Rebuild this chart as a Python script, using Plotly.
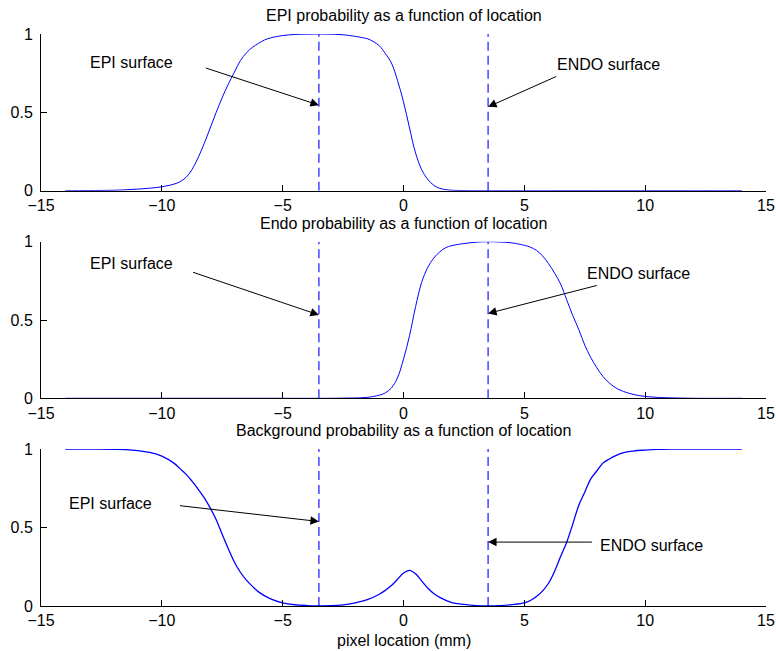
import plotly.graph_objects as go

# ---------------- data ----------------
epi_x = [-14, -13, -12, -11.5, -11, -10.5, -10, -9.5, -9.25, -9, -8.75, -8.5, -8.25, -8,
         -7.75, -7.5, -7.25, -7, -6.75, -6.5, -6.25, -6, -5.75, -5.5, -5, -4.5, -4, -3.5,
         -3, -2.5, -2, -1.75, -1.5, -1.25, -1, -0.75, -0.5, -0.25, 0, 0.25, 0.5, 0.75,
         1, 1.25, 1.5, 1.75, 2, 2.5, 3, 4, 6, 8, 10, 12, 14]
epi_prob = [0.0, 0.001, 0.003, 0.006, 0.010, 0.016, 0.025, 0.042, 0.057, 0.085, 0.135, 0.21, 0.30, 0.40,
            0.50, 0.595, 0.68, 0.755, 0.83, 0.88, 0.915, 0.94, 0.962, 0.975, 0.99, 0.997, 0.999, 1.0,
            0.999, 0.995, 0.985, 0.978, 0.97, 0.952, 0.925, 0.875, 0.815, 0.705, 0.567, 0.40, 0.24, 0.135,
            0.073, 0.035, 0.015, 0.007, 0.003, 0.001, 0.0, 0.0, 0.0, 0.0, 0.0, 0.0, 0.0]

endo_x = [-14, -10, -6, -3, -2.5, -2, -1.5, -1, -0.75, -0.5, -0.25, 0, 0.25, 0.5, 0.75,
          1, 1.25, 1.5, 1.75, 2, 2.5, 3, 3.5, 4, 4.5, 5, 5.25, 5.5, 5.75, 6, 6.25, 6.5,
          6.75, 7, 7.25, 7.5, 7.75, 8, 8.25, 8.5, 8.75, 9, 9.5, 10, 10.5, 11, 12, 14]
endo_prob = [0.0, 0.0, 0.0, 0.0, 0.001, 0.002, 0.006, 0.02, 0.035, 0.066, 0.13, 0.25, 0.40, 0.585, 0.74,
             0.835, 0.895, 0.935, 0.962, 0.975, 0.988, 0.997, 1.0, 0.998, 0.992, 0.977, 0.965, 0.945, 0.91,
             0.86, 0.80, 0.73, 0.63, 0.53, 0.44, 0.34, 0.26, 0.195, 0.14, 0.10, 0.07, 0.05, 0.025, 0.012,
             0.006, 0.003, 0.0, 0.0]

bg_x = [-14, -13, -12, -11.5, -11, -10.5, -10, -9.5, -9.25, -9, -8.75, -8.5, -8.25, -8, -7.75,
        -7.5, -7.25, -7, -6.75, -6.5, -6.25, -6, -5.5, -5, -4.5, -4, -3.5, -3, -2.5, -2, -1.5,
        -1, -0.75, -0.5, -0.25, 0, 0.25, 0.5, 0.75, 1, 1.25, 1.5, 2, 2.5, 3, 3.5, 4, 4.5, 5,
        5.25, 5.5, 5.75, 6, 6.25, 6.5, 6.75, 7, 7.25, 7.5, 7.75, 8, 8.25, 8.5, 9, 9.5, 10, 10.5,
        11, 12, 13, 14]
background_prob = [1.0, 1.0, 0.998, 0.996, 0.99, 0.978, 0.955, 0.91, 0.875, 0.84, 0.795, 0.745, 0.69, 0.625, 0.55,
                   0.455, 0.365, 0.28, 0.215, 0.165, 0.125, 0.09, 0.045, 0.02, 0.008, 0.003, 0.001, 0.002, 0.007, 0.02, 0.04,
                   0.075, 0.10, 0.13, 0.17, 0.21, 0.227, 0.205, 0.16, 0.115, 0.08, 0.055, 0.022, 0.01, 0.003, 0.001, 0.003, 0.009, 0.02,
                   0.035, 0.06, 0.095, 0.145, 0.22, 0.315, 0.405, 0.52, 0.64, 0.725, 0.81, 0.86, 0.91, 0.935, 0.972, 0.987, 0.993, 0.997,
                   0.999, 1.0, 1.0, 1.0]

surface_x = [-3.5, 3.5]          # EPI surface, ENDO surface (mm)
surface_names = ["EPI surface", "ENDO surface"]

titles = ["EPI probability as a function of location",
          "Endo probability as a function of location",
          "Background probability as a function of location"]
series_x = [epi_x, endo_x, bg_x]
series_y = [epi_prob, endo_prob, background_prob]

x_ticks = [-15, -10, -5, 0, 5, 10, 15]
y_ticks = [0, 0.5, 1]

# annotation placement (text centre, arrow tail, arrow head) per panel
label_pos = [
    [((-11.25, 0.82), (-8.24, 0.786), (-3.5, 0.546)),
     ((8.47, 0.807), (6.38, 0.733), (3.5, 0.535))],
    [((-11.25, 0.862), (-8.77, 0.808), (-3.5, 0.532)),
     ((9.71, 0.80), (8.06, 0.723), (3.5, 0.542))],
    [((-12.13, 0.651), (-9.31, 0.64), (-3.5, 0.538)),
     ((10.28, 0.386), (7.86, 0.407), (3.5, 0.407))],
]

# ---------------- figure ----------------
FONT = "Liberation Sans, Arial, Helvetica, sans-serif"
BLUE = "#0000FF"
W, H = 776, 651
ML, MR, MT, MB = 41, 10, 34, 45
plot_h = H - MT - MB
panel_px = [(34.0, 190.7), (241.7, 398.3), (449.0, 606.0)]

fig = go.Figure()
annotations = []
layout_axes = {}
for i in range(3):
    n = "" if i == 0 else str(i + 1)
    xa, ya = "x" + n, "y" + n
    top, bot = panel_px[i]
    d0 = max(0.0, min(1.0, (H - MB - bot) / plot_h))
    d1 = max(0.0, min(1.0, (H - MB - top) / plot_h))
    lw = 1.0 if i < 2 else 1.3
    fig.add_trace(go.Scatter(x=series_x[i], y=series_y[i], mode="lines",
                             line=dict(color=BLUE, width=lw, shape="spline", smoothing=1.0),
                             xaxis=xa, yaxis=ya, showlegend=False, hoverinfo="skip"))
    for sx in surface_x:
        fig.add_trace(go.Scatter(x=[sx, sx], y=[0, 1], mode="lines",
                                 line=dict(color=BLUE, width=1.1, dash="9px,5px"),
                                 xaxis=xa, yaxis=ya, showlegend=False, hoverinfo="skip"))
    common = dict(showgrid=False, zeroline=False, showline=True, linecolor="black",
                  linewidth=1, ticks="inside", ticklen=6, tickcolor="black",
                  automargin=False,
                  tickfont=dict(family=FONT, size=16, color="black"))
    layout_axes["xaxis" + n] = dict(domain=[0, 1], anchor=ya, range=[-15, 15],
                                    tickvals=x_ticks,
                                    ticktext=[str(v).replace("-", "\u2212") for v in x_ticks],
                                    **common)
    layout_axes["yaxis" + n] = dict(domain=[d0, d1], anchor=xa, range=[0, 1],
                                    tickvals=y_ticks, ticktext=["0", "0.5", "1"],
                                    ticklabelstandoff=4, **common)
    annotations.append(dict(text=titles[i], xref=xa + " domain", yref=ya + " domain",
                            x=0.5, y=1, xanchor="center", yanchor="bottom", yshift=8,
                            showarrow=False, font=dict(family=FONT, size=16, color="black")))
    for k in range(2):
        (tx, ty), (ax, ay), (hx, hy) = label_pos[i][k]
        annotations.append(dict(text=surface_names[k], xref=xa, yref=ya, x=tx, y=ty,
                                xanchor="center", yanchor="middle", showarrow=False,
                                font=dict(family=FONT, size=16, color="black")))
        annotations.append(dict(text="", xref=xa, yref=ya, x=hx, y=hy,
                                axref=xa, ayref=ya, ax=ax, ay=ay, showarrow=True,
                                arrowhead=2, arrowsize=1.7, arrowwidth=1,
                                arrowcolor="black", standoff=0, startstandoff=0))

annotations.append(dict(text="pixel location (mm)", xref="x3 domain", yref="paper",
                        x=0.5, y=0, yanchor="top", yshift=-24, showarrow=False,
                        font=dict(family=FONT, size=16, color="black")))

fig.update_layout(width=W, height=H,
                  margin=dict(l=ML, r=MR, t=MT, b=MB, autoexpand=False),
                  paper_bgcolor="white", plot_bgcolor="white",
                  annotations=annotations, **layout_axes)

fig.write_html("out.html")
